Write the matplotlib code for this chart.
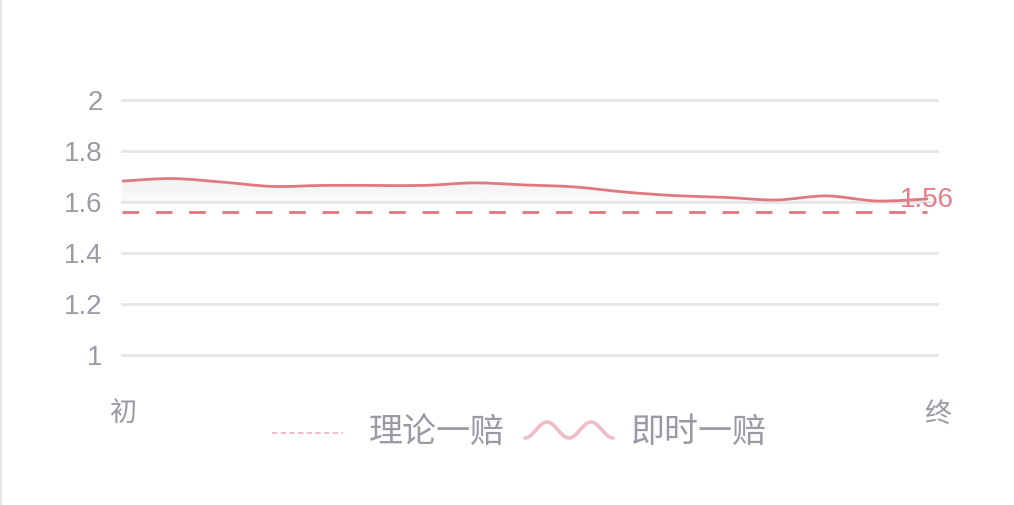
import numpy as np
import matplotlib
matplotlib.use("Agg")
import matplotlib.pyplot as plt
from matplotlib.path import Path
from matplotlib.patches import PathPatch
from matplotlib.lines import Line2D

# ---- data ----
live_odds = [1.682, 1.692, 1.678, 1.661, 1.665, 1.665, 1.665, 1.675, 1.667,
             1.659, 1.639, 1.625, 1.618, 1.608, 1.624, 1.604, 1.612]
theory_odds = 1.56
y_ticks = [1, 1.2, 1.4, 1.6, 1.8, 2]
y_tick_labels = ["1", "1.2", "1.4", "1.6", "1.8", "2"]
x_labels = ["初", "终"]
legend_labels = ["理论一赔", "即时一赔"]

W, H = 1014, 505
fig = plt.figure(figsize=(W / 100, H / 100), dpi=100)
fig.patch.set_facecolor("white")

L, R, T, B = 122, 937, 100, 355
ax = fig.add_axes([L / W, 1 - B / H, (R - L) / W, (B - T) / H])
ax.set_facecolor("none")
for s in ax.spines.values():
    s.set_visible(False)

n = len(live_odds)
xs = np.arange(n, dtype=float)
line_end_px = 927
xmax = (n - 1) * (R - L) / (line_end_px - L)
ax.set_xlim(0, xmax)
ax.set_ylim(1, 2)

grid_c = "#e7e7ea"
for v in y_ticks:
    ax.axhline(v, color=grid_c, lw=2, zorder=1, clip_on=False)

ax.set_yticks(y_ticks)
ax.set_yticklabels(y_tick_labels)
ax.tick_params(axis="y", length=0, pad=14, labelsize=20, labelcolor="#9b9ba6")
for t in ax.get_yticklabels():
    t.set_fontfamily(["Liberation Sans", "DejaVu Sans"])
ax.set_xticks([])

# smooth path (Catmull-Rom -> Bezier)
ys = np.array(live_odds)
verts = [(xs[0], ys[0])]
codes = [Path.MOVETO]
for i in range(n - 1):
    p0 = (xs[max(i - 1, 0)], ys[max(i - 1, 0)])
    p1 = (xs[i], ys[i])
    p2 = (xs[i + 1], ys[i + 1])
    p3 = (xs[min(i + 2, n - 1)], ys[min(i + 2, n - 1)])
    c1 = (p1[0] + (p2[0] - p0[0]) / 6, p1[1] + (p2[1] - p0[1]) / 6)
    c2 = (p2[0] - (p3[0] - p1[0]) / 6, p2[1] - (p3[1] - p1[1]) / 6)
    verts += [c1, c2, p2]
    codes += [Path.CURVE4] * 3

line_color = "#e07880"

# shadow gradient under the line
base = 1.595
shadow_verts = verts + [(xs[-1], base), (xs[0], base), (xs[0], ys[0])]
shadow_codes = codes + [Path.LINETO, Path.LINETO, Path.CLOSEPOLY]
shadow = PathPatch(Path(shadow_verts, shadow_codes), facecolor="none",
                   edgecolor="none", transform=ax.transData)
ax.add_patch(shadow)
grad = np.linspace(0, 1, 100).reshape(-1, 1)
rgba = np.zeros((100, 1, 4))
rgba[..., 0:3] = 0.80
rgba[..., 3] = 0.07 + 0.2 * grad
im = ax.imshow(rgba, extent=[0, xs[-1], base, max(ys)], aspect="auto",
               origin="lower", zorder=2)
im.set_clip_path(shadow)

ax.add_patch(PathPatch(Path(verts, codes), facecolor="none",
                       edgecolor=line_color, lw=2, zorder=4,
                       transform=ax.transData, capstyle="round"))

# theory dashed line
ax.plot([0, xs[-1]], [theory_odds, theory_odds], color="#e3737c", lw=2,
        dashes=(6, 6), zorder=3)

ax.text(xs[-1], ys[-1] - 0.005, f"{theory_odds:.2f}", ha="center", va="center",
        color="#e57c86", fontsize=20, zorder=5,
        family=["Liberation Sans", "DejaVu Sans"])

cjk = ["Noto Sans CJK SC", "DejaVu Sans"]
grey = "#9a9aa5"
fig.text(123 / W, 1 - 414 / H, x_labels[0], ha="center", va="center",
         fontsize=19.5, color=grey, family=cjk)
fig.text(938 / W, 1 - 414 / H, x_labels[1], ha="center", va="center",
         fontsize=19.5, color=grey, family=cjk)

# legend
leg_y = 1 - 433 / H
fig.add_artist(Line2D([272 / W, 343 / W], [leg_y, leg_y], color="#f2b9c2",
                      lw=1.3, dashes=(3, 1.8)))
fig.text(369 / W, 1 - 432 / H, legend_labels[0], ha="left", va="center",
         fontsize=24.5, color=grey, family=cjk)
t = np.linspace(0, 1, 120)
wx = 525 + 88 * t
wy = 430 + 8 * np.cos(2 * np.pi * 2 * t)
fig.add_artist(Line2D(wx / W, 1 - wy / H, color="#f2bcc6", lw=2.6,
                      solid_capstyle="round"))
fig.text(631 / W, 1 - 432 / H, legend_labels[1], ha="left", va="center",
         fontsize=24.5, color=grey, family=cjk)

# left frame edge
fig.add_artist(Line2D([0.6 / W, 0.6 / W], [0, 1], color="#e6e6e6", lw=1.5))

fig.savefig("out.png", dpi=100, facecolor="white")
